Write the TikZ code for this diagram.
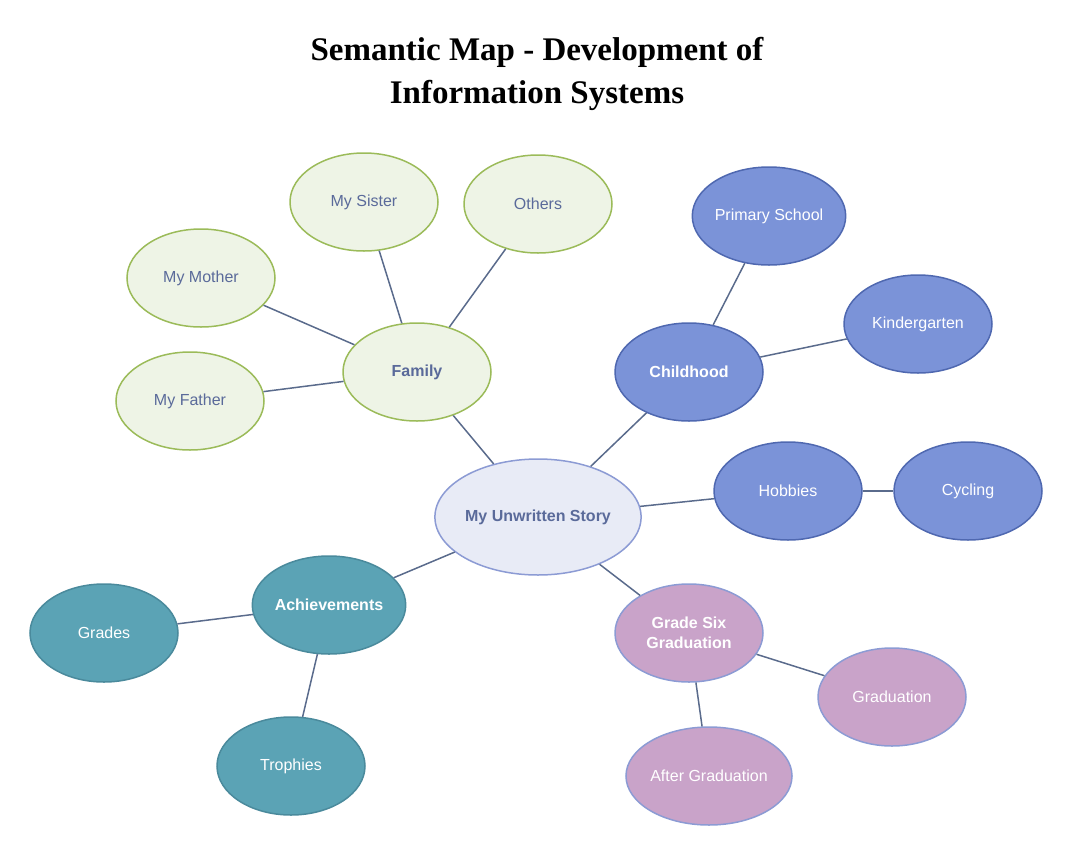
\documentclass[tikz,border=0pt]{standalone}
\usepackage{fontspec}
\setmainfont{Liberation Sans}
\newfontfamily\titlefont{Liberation Serif}
\usetikzlibrary{shapes.geometric}
\definecolor{gfill}{HTML}{EEF4E6}\definecolor{gline}{HTML}{9BBB59}
\definecolor{bfill}{HTML}{7B93D8}\definecolor{bline}{HTML}{4F68B0}
\definecolor{tfill}{HTML}{5BA3B5}\definecolor{tline}{HTML}{4A8A9C}
\definecolor{pfill}{HTML}{C9A3C9}\definecolor{pline}{HTML}{8C9BD4}
\definecolor{cfill}{HTML}{E8EBF6}\definecolor{cline}{HTML}{8C9BD4}
\definecolor{txt}{HTML}{5A6A9A}\definecolor{edge}{HTML}{5A6B8C}
\tikzset{
 el/.style={ellipse,minimum width=148pt,minimum height=98pt,line width=1.5pt,font=\fontsize{16}{19}\selectfont,align=center,inner sep=0pt},
 gr/.style={el,fill=gfill,draw=gline,text=txt},
 bl/.style={el,fill=bfill,draw=bline,text=white},
 te/.style={el,fill=tfill,draw=tline,text=white},
 pu/.style={el,fill=pfill,draw=pline,text=white},
 bo/.style={font=\fontsize{16}{20}\selectfont\bfseries},
 con/.style={draw=edge,line width=1.5pt}
}
\begin{document}
\begin{tikzpicture}[x=1pt,y=-1pt]
\useasboundingbox (0,0) rectangle (1069,857);
\node[font=\titlefont\fontsize{33}{43}\selectfont\bfseries,align=center] (title) at (537,74) {Semantic Map - Development of\\Information Systems};
\node[el,fill=cfill,draw=cline,text=txt,bo,minimum width=176pt,minimum height=116pt] (c) at (538,517) {My Unwritten Story};
\node[gr,bo] (fam) at (417,372) {Family};
\node[gr] (sis) at (364,202) {My Sister};
\node[gr] (oth) at (538,204) {Others};
\node[gr] (mom) at (201,278) {My Mother};
\node[gr] (dad) at (190,401) {My Father};
\node[bl,bo] (ch) at (689,372) {Childhood};
\node[bl] (ps) at (769,216) {Primary School};
\node[bl] (kg) at (918,324) {Kindergarten};
\node[bl] (hob) at (788,491) {Hobbies};
\node[bl] (cyc) at (968,491) {Cycling};
\node[te,bo] (ach) at (329,605) {Achievements};
\node[te] (gra) at (104,633) {Grades};
\node[te] (tro) at (291,766) {Trophies};
\node[pu,bo] (gsg) at (689,633) {Grade Six\\Graduation};
\node[pu] (grd) at (892,697) {Graduation};
\node[pu] (aft) at (709,776) {After Graduation};
\begin{scope}[on background layer/.style={}]
\draw[con] (c) -- (fam); \draw[con] (fam) -- (sis); \draw[con] (fam) -- (oth);
\draw[con] (fam) -- (mom); \draw[con] (fam) -- (dad);
\draw[con] (c) -- (ch); \draw[con] (ch) -- (ps); \draw[con] (ch) -- (kg);
\draw[con] (c) -- (hob); \draw[con] (hob) -- (cyc);
\draw[con] (c) -- (ach); \draw[con] (ach) -- (gra); \draw[con] (ach) -- (tro);
\draw[con] (c) -- (gsg); \draw[con] (gsg) -- (grd); \draw[con] (gsg) -- (aft);
\end{scope}
\end{tikzpicture}
\end{document}
